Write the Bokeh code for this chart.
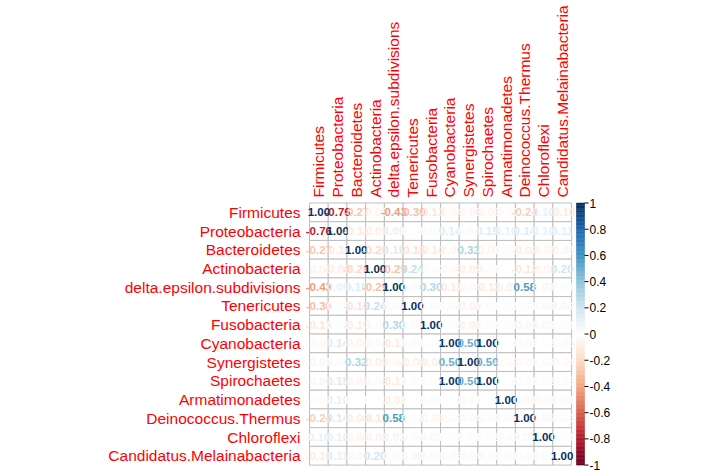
import numpy as np
from bokeh.plotting import figure
from bokeh.models import Range1d, ColumnDataSource
from bokeh.core.properties import value
from bokeh.embed import file_html
from bokeh.resources import INLINE

# ---- data -------------------------------------------------------------
taxa = [
    "Firmicutes", "Proteobacteria", "Bacteroidetes", "Actinobacteria",
    "delta.epsilon.subdivisions", "Tenericutes", "Fusobacteria",
    "Cyanobacteria", "Synergistetes", "Spirochaetes", "Armatimonadetes",
    "Deinococcus.Thermus", "Chloroflexi", "Candidatus.Melainabacteria",
]

firmicutes      = [1.00, -0.76, -0.27, -0.06, -0.43, -0.30, -0.13, -0.04, -0.05, -0.05, -0.02, -0.24, 0.10, -0.10]
proteobacteria  = [-0.76, 1.00, -0.11, -0.09, 0.09, 0.02, 0.03, 0.14, 0.04, 0.15, 0.10, 0.14, 0.10, 0.11]
bacteroidetes   = [-0.27, -0.11, 1.00, -0.20, 0.15, -0.15, -0.10, -0.06, 0.32, -0.06, 0.02, -0.09, -0.05, -0.05]
actinobacteria  = [-0.06, -0.09, -0.20, 1.00, -0.29, 0.24, -0.02, -0.03, -0.09, -0.03, 0.01, -0.12, -0.06, 0.20]
delta_epsilon   = [-0.43, 0.09, 0.15, -0.29, 1.00, 0.04, 0.30, -0.11, -0.04, -0.11, -0.08, 0.58, 0.07, 0.03]
tenericutes     = [-0.30, 0.02, -0.15, 0.24, 0.04, 1.00, 0.04, 0.03, -0.08, 0.03, 0.02, 0.03, 0.04, 0.06]
fusobacteria    = [-0.13, 0.03, -0.10, -0.02, 0.30, 0.04, 1.00, 0.02, -0.08, 0.02, 0.03, -0.05, 0.05, 0.03]
cyanobacteria   = [-0.04, 0.14, -0.06, -0.03, -0.11, 0.03, 0.02, 1.00, 0.50, 1.00, 0.00, -0.03, 0.02, -0.03]
synergistetes   = [-0.05, 0.04, 0.32, -0.09, -0.04, -0.08, -0.08, 0.50, 1.00, 0.50, -0.03, -0.04, 0.03, -0.04]
spirochaetes    = [-0.05, 0.15, -0.06, -0.03, -0.11, 0.03, 0.02, 1.00, 0.50, 1.00, 0.00, -0.03, 0.02, -0.03]
armatimonadetes = [-0.02, 0.10, 0.02, 0.01, -0.08, 0.02, 0.03, 0.00, -0.03, 0.00, 1.00, 0.04, -0.03, 0.03]
deinococcus     = [-0.24, 0.14, -0.09, -0.12, 0.58, 0.03, -0.05, -0.03, -0.04, -0.03, 0.04, 1.00, 0.05, -0.03]
chloroflexi     = [0.10, 0.10, -0.05, -0.06, 0.07, 0.04, 0.05, 0.02, 0.03, 0.02, -0.03, 0.05, 1.00, 0.03]
candidatus      = [-0.10, 0.11, -0.05, 0.20, 0.03, 0.06, 0.03, -0.03, -0.04, -0.03, 0.03, -0.03, 0.03, 1.00]

legend_ticks = [-1.0, -0.8, -0.6, -0.4, -0.2, 0.0, 0.2, 0.4, 0.6, 0.8, 1.0]
legend_tick_labels = ["-1", "-0.8", "-0.6", "-0.4", "-0.2", "0", "0.2", "0.4", "0.6", "0.8", "1"]

corr = np.array([
    firmicutes, proteobacteria, bacteroidetes, actinobacteria, delta_epsilon,
    tenericutes, fusobacteria, cyanobacteria, synergistetes, spirochaetes,
    armatimonadetes, deinococcus, chloroflexi, candidatus,
])

# ---- layout (pixels) ---------------------------------------------------
W, H = 719, 475
GRID_LEFT, GRID_TOP, CELL = 309.0, 202.5, 18.72
BAR_LEFT_PX, BAR_RIGHT_PX = 576.0, 584.0
FONT = value("Liberation Sans")
n = len(taxa)

# diverging red-white-blue palette, 200 steps
anchors = ["#67001F", "#B2182B", "#D6604D", "#F4A582", "#FDDBC7", "#FFFFFF",
           "#D1E5F0", "#92C5DE", "#4393C3", "#2166AC", "#053061"]
anchor_rgb = np.array([[int(c[i:i + 2], 16) for i in (1, 3, 5)] for c in anchors], float)
anchor_pos = np.linspace(0, 1, len(anchors))
steps = np.linspace(0, 1, 200)
ramp = np.stack([np.interp(steps, anchor_pos, anchor_rgb[:, k]) for k in range(3)], axis=1)
palette = ["#%02X%02X%02X" % tuple(int(round(v)) for v in rgb) for rgb in ramp]


def colour_for(v):
    idx = int(np.ceil((v + 1) / 2 * len(palette))) - 1
    return palette[min(max(idx, 0), len(palette) - 1)]


# cell units on x / y, y grows downward
x_range = Range1d(-GRID_LEFT / CELL, (W - GRID_LEFT) / CELL)
y_range = Range1d((H - GRID_TOP) / CELL, -GRID_TOP / CELL)

p = figure(width=W, height=H, x_range=x_range, y_range=y_range,
           x_axis_type=None, y_axis_type=None, toolbar_location=None,
           output_backend="svg", min_border=0)
p.outline_line_color = None
p.grid.visible = False
p.background_fill_color = "white"
p.border_fill_color = "white"

# colour scale range: value 1 at grid top, -1 at grid bottom
px_per_unit = n * CELL / 2.0
grid_bottom = GRID_TOP + n * CELL
p.extra_y_ranges = {"cbar": Range1d(-1 - (H - grid_bottom) / px_per_unit,
                                    1 + GRID_TOP / px_per_unit)}

# ---- matrix ------------------------------------------------------------
rows, cols = np.meshgrid(np.arange(n), np.arange(n), indexing="ij")
vals = corr.ravel()
cells = ColumnDataSource(dict(
    x=cols.ravel() + 0.5,
    y=rows.ravel() + 0.5,
    label=["%.2f" % v for v in vals],
    colour=[colour_for(v) for v in vals],
))
p.rect(x="x", y="y", width=1, height=1, source=cells,
       fill_color="white", line_color="#BEBEBE", line_width=1)
p.text(x="x", y="y", text="label", source=cells, text_color="colour",
       text_font=FONT, text_font_size="11.5px", text_font_style="bold",
       text_align="center", text_baseline="middle")

# row names
p.text(x=[0.0] * n, y=np.arange(n) + 0.5, text=taxa, x_offset=-9,
       text_font=FONT, text_font_size="15.5px", text_color="red",
       text_align="right", text_baseline="middle")

# column names, reading upward
p.text(x=np.arange(n) + 0.5, y=[0.0] * n, text=taxa, y_offset=-5.5,
       angle=np.pi / 2, text_font=FONT, text_font_size="15.5px",
       text_color="red", text_align="left", text_baseline="middle")

# ---- colour legend -----------------------------------------------------
bar_left = (BAR_LEFT_PX - GRID_LEFT) / CELL
bar_right = (BAR_RIGHT_PX - GRID_LEFT) / CELL
edges = np.linspace(-1, 1, len(palette) + 1)
p.quad(left=bar_left, right=bar_right, bottom=edges[:-1], top=edges[1:],
       fill_color=palette, line_color=palette, line_width=0.5,
       y_range_name="cbar")
tick_len = 4 / CELL
p.segment(x0=[bar_right] * len(legend_ticks), x1=[bar_right + tick_len] * len(legend_ticks),
          y0=legend_ticks, y1=legend_ticks, line_color="black", line_width=1,
          y_range_name="cbar")
p.text(x=[bar_right] * len(legend_ticks), y=legend_ticks, text=legend_tick_labels,
       x_offset=5, text_font=FONT, text_font_size="12px", text_color="black",
       text_align="left", text_baseline="middle", y_range_name="cbar")

open("out.html", "w").write(file_html(p, INLINE))
